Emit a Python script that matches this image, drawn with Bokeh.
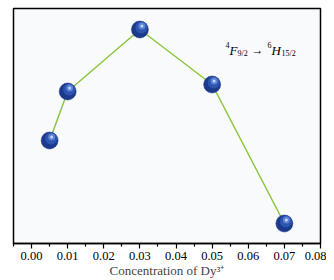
from bokeh.plotting import figure
from bokeh.models import Range1d, Label, FixedTicker
from bokeh.embed import file_html
from bokeh.resources import INLINE

conc = [0.005, 0.01, 0.03, 0.05, 0.07]
intensity = [103, 152, 214, 159, 20]
ticks = [0.0, 0.01, 0.02, 0.03, 0.04, 0.05, 0.06, 0.07, 0.08]
minor = [-0.005, 0.005, 0.015, 0.025, 0.035, 0.045, 0.055, 0.065, 0.075]

FONT = "Liberation Serif"

p = figure(width=326, height=280, output_backend="svg", toolbar_location=None,
           x_range=Range1d(-0.005, 0.08), y_range=Range1d(0, 235),
           min_border_left=13, min_border_right=6, min_border_top=8, min_border_bottom=37)
p.background_fill_color = "#f9fafc"
p.border_fill_color = "white"
p.outline_line_color = "black"
p.outline_line_width = 1.5
p.grid.visible = False
p.yaxis.visible = False

xa = p.xaxis[0]
xa.ticker = FixedTicker(ticks=ticks, minor_ticks=minor)
xa.major_label_overrides = {t: f"{t:.2f}" for t in ticks}
xa.axis_line_color = "black"
xa.axis_line_width = 1.5
xa.major_tick_in = 0
xa.major_tick_out = 5
xa.minor_tick_in = 0
xa.minor_tick_out = 3
xa.major_tick_line_width = 1.2
xa.minor_tick_line_width = 1.2
xa.major_label_text_font = FONT
xa.major_label_text_font_size = "12.5px"
xa.major_label_text_color = "black"
xa.major_label_standoff = 3
xa.axis_label = "Concentration of Dy³⁺"
xa.axis_label_text_font = FONT
xa.axis_label_text_font_style = "normal"
xa.axis_label_text_font_size = "13px"
xa.axis_label_standoff = 0

p.line(conc, intensity, line_color="#8cc63f", line_width=1.5)

# sphere-like markers: layered circles
xs_px = 0.085 / 307.0
hx = [c + 1.5 * xs_px for c in conc]
hy = [v + 2 for v in intensity]
hx2 = [c + 2 * xs_px for c in conc]
hy2 = [v + 3.5 for v in intensity]
p.scatter(conc, intensity, size=17, fill_color="#1c3a8c", line_color="#1a3580", line_width=0.5)
p.scatter(hx, hy, size=12, fill_color="#2d55b0", line_color=None)
p.scatter(hx2, hy2, size=7, fill_color="#5b82d4", line_color=None)
p.scatter(hx2, hy2, size=3, fill_color="#c3d3f3", line_color=None)

# annotation 4F9/2 -> 6H15/2
def lab(x, y, t, size, italic=False):
    p.add_layout(Label(x=x, y=y, x_units="screen", y_units="screen", text=t,
                       text_font=FONT, text_font_size=size,
                       text_font_style="italic" if italic else "normal",
                       text_color="black", text_baseline="alphabetic"))

bx, by = 212, 193
lab(bx, by + 6, "4", "8px")
lab(bx + 4, by, "F", "13px", True)
lab(bx + 12, by - 3, "9/2", "8px")
lab(bx + 26, by + 1, "→", "12px")
lab(bx + 42, by + 6, "6", "8px")
lab(bx + 46, by, "H", "13px", True)
lab(bx + 56, by - 3, "15/2", "8px")

open("out.html", "w").write(file_html(p, INLINE))
